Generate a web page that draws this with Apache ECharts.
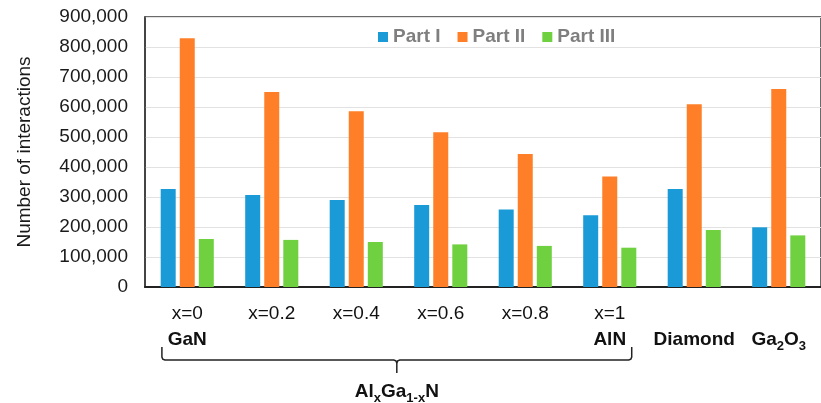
<!DOCTYPE html>
<html>
<head>
<meta charset="utf-8">
<script src="https://cdn.jsdelivr.net/npm/echarts@6/dist/echarts.min.js"></script>
<style>
html,body{margin:0;padding:0;background:#fff;}
#c{width:821px;height:403px;}
</style>
</head>
<body>
<div id="c"></div>
<script>
const categories = ['x=0','x=0.2','x=0.4','x=0.6','x=0.8','x=1','Diamond','Ga2O3'];
const compositionLabels = ['x=0','x=0.2','x=0.4','x=0.6','x=0.8','x=1','',''];
const materialLabels = ['GaN','','','','','AlN','Diamond','Ga2O3'];
const seriesNames = ['Part I','Part II','Part III'];
const partI = [327000, 307000, 290000, 273000, 258000, 239000, 327000, 199000];
const partII = [829000, 650000, 586000, 516000, 443000, 368000, 609000, 660000];
const partIII = [160000, 157000, 150000, 142000, 137000, 131000, 190000, 172000];
const yAxisTitle = 'Number of interactions';
const groupTitle = '{b|Al}{s|x}{b|Ga}{s|1-x}{b|N}';

const FONT = '"Liberation Sans", Arial, sans-serif';
const colors = ['#1a9bd7', '#fe7f27', '#6fd13f'];

const chart = echarts.init(document.getElementById('c'), null, {renderer: 'canvas'});

function materialRich(name) {
  if (!name) return '{b| }';
  return '{b|' + name.replace(/(\d)/g, '}{s|$1}{b|') + '}';
}

const subStyle = {fontFamily: FONT, fontSize: 13, fontWeight: 'bold', lineHeight: 19, verticalAlign: 'bottom'};

const option = {
  animation: false,
  backgroundColor: '#fff',
  textStyle: {fontFamily: FONT},
  color: colors,
  legend: {
    data: seriesNames,
    left: 378,
    top: 27,
    padding: 0,
    icon: 'rect',
    itemWidth: 10,
    itemHeight: 10,
    itemGap: 17,
    textStyle: {fontFamily: FONT, fontSize: 19, fontWeight: 'bold', color: '#7f7f7f', lineHeight: 20}
  },
  grid: {
    left: 145, top: 17, right: -7, bottom: 116,
    show: true, borderColor: '#3a3a3a', borderWidth: 1.5, backgroundColor: 'transparent'
  },
  xAxis: {
    type: 'category',
    data: categories,
    axisTick: {show: false},
    axisLine: {lineStyle: {color: '#222', width: 2}},
    axisLabel: {
      interval: 0,
      margin: 14,
      fontFamily: FONT,
      fontSize: 19,
      lineHeight: 26,
      color: '#111',
      formatter: function (v, i) {
        const top = compositionLabels[i] || ' ';
        return '{n|' + top + '}\n' + materialRich(materialLabels[i]);
      },
      rich: {
        n: {fontFamily: FONT, fontSize: 19, lineHeight: 26, color: '#111'},
        b: {fontFamily: FONT, fontSize: 19, fontWeight: 'bold', lineHeight: 26, color: '#111'},
        s: Object.assign({color: '#111'}, subStyle)
      }
    }
  },
  yAxis: {
    type: 'value',
    min: 0,
    max: 900000,
    interval: 100000,
    name: yAxisTitle,
    nameLocation: 'middle',
    nameGap: 111,
    nameTextStyle: {fontFamily: FONT, fontSize: 19, color: '#1a1a1a'},
    axisLine: {show: true, lineStyle: {color: '#3a3a3a', width: 1.5}},
    axisTick: {show: false},
    splitLine: {lineStyle: {color: '#e2e2e2', width: 1}},
    axisLabel: {
      margin: 17,
      fontFamily: FONT,
      fontSize: 19,
      color: '#1a1a1a',
      formatter: function (v) { return v.toLocaleString('en-US'); }
    }
  },
  series: [
    {name: seriesNames[0], type: 'bar', data: partI, barWidth: 15, barGap: '27%'},
    {name: seriesNames[1], type: 'bar', data: partII, barWidth: 15, barGap: '27%'},
    {name: seriesNames[2], type: 'bar', data: partIII, barWidth: 15, barGap: '27%'}
  ]
};

chart.setOption(option);

// brace under the AlxGa1-xN group, positioned from the axis scale
const c0 = chart.convertToPixel({xAxisIndex: 0}, categories[0]);
const c1 = chart.convertToPixel({xAxisIndex: 0}, categories[1]);
const c5 = chart.convertToPixel({xAxisIndex: 0}, categories[5]);
const yb = chart.convertToPixel({yAxisIndex: 0}, 0);
const w = c1 - c0;
const L = c0 - 0.3 * w;
const R = c5 + 0.26 * w;
const M = (L + R) / 2;
const yTop = yb + 60, yH = yb + 73, yTick = yb + 86;

const leftHalf = [
  [L, yTop], [L, yH - 3], [L + 0.9, yH - 0.9], [L + 3, yH],
  [M - 3, yH], [M - 0.9, yH + 0.9], [M, yH + 3], [M, yTick]
];
const rightHalf = [
  [M, yH + 3], [M + 0.9, yH + 0.9], [M + 3, yH],
  [R - 3, yH], [R - 0.9, yH - 0.9], [R, yH - 3], [R, yTop]
];

chart.setOption({
  graphic: [
    {
      type: 'polyline',
      shape: {points: leftHalf},
      style: {fill: null, stroke: '#222', lineWidth: 1.5}
    },
    {
      type: 'polyline',
      shape: {points: rightHalf},
      style: {fill: null, stroke: '#222', lineWidth: 1.5}
    },
    {
      type: 'text',
      x: M,
      y: yb + 105,
      style: {
        text: groupTitle,
        align: 'center',
        verticalAlign: 'middle',
        rich: {
          b: {fontFamily: FONT, fontSize: 19, fontWeight: 'bold', lineHeight: 26, fill: '#111'},
          s: Object.assign({fill: '#111'}, subStyle)
        }
      }
    }
  ]
});
</script>
</body>
</html>
